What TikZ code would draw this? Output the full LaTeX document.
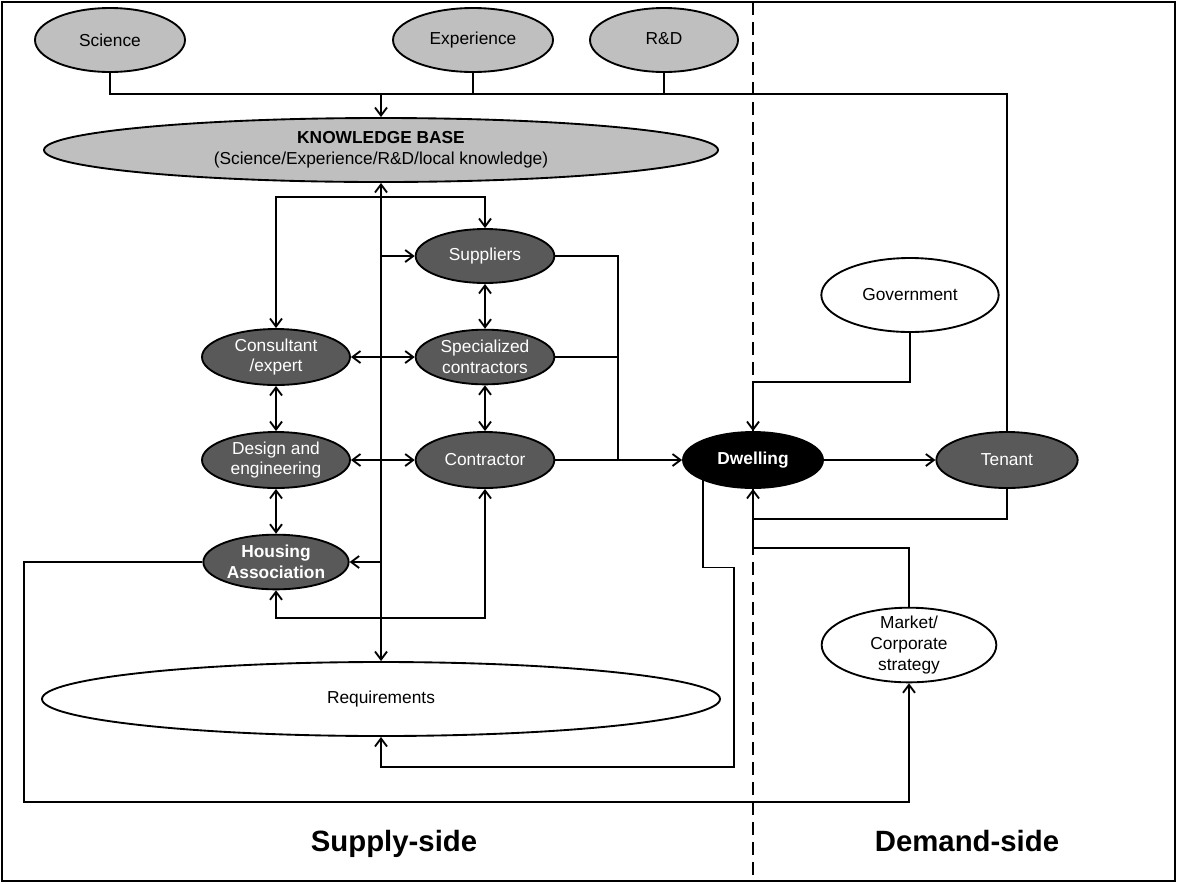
\documentclass[tikz,border=0pt]{standalone}
\usepackage{fontspec}
\setmainfont{Liberation Sans}
\usetikzlibrary{shapes.geometric,arrows.meta,calc}

\definecolor{knowfill}{RGB}{191,191,191}
\definecolor{actorfill}{RGB}{89,89,89}

\tikzset{
  >={Straight Barb[length=6pt,width=9pt]},
  oval/.style={ellipse,draw,inner sep=0pt,align=center,font=\fontsize{13}{15.5}\selectfont},
  source/.style={oval,fill=knowfill},
  actor/.style={oval,fill=actorfill,text=white},
  keyactor/.style={actor,font=\fontsize{13}{15.5}\selectfont\bfseries},
  outside/.style={oval,fill=white},
  sidelabel/.style={anchor=base,font=\fontsize{22}{26}\selectfont\bfseries},
}

\begin{document}
\begin{tikzpicture}[x=0.75pt,y=0.75pt,yscale=-1,xscale=1,line width=1.4pt]
\useasboundingbox (0,0) rectangle (1177,883);

%Frame and divider
\draw (2,2) rectangle (1175,881);
\draw [dash pattern=on 10pt off 5pt] (753,2) -- (753,881);

%Shape: Ellipses (sources of knowledge)
\node [source,minimum width=112.5pt,minimum height=48pt] (sci) at (110,40) {Science};
\node [source,minimum width=120pt,minimum height=48pt] (exp) at (473,40) {\strut Experience};
\node [source,minimum width=111pt,minimum height=48pt] (rnd) at (664,40) {\strut R\&D};
\node [source,minimum width=505.5pt,minimum height=48pt] (kb) at (381,150) {\textbf{KNOWLEDGE BASE}\\(Science/Experience/R\&D/local knowledge)};

%Shape: Ellipses (supply chain)
\node [actor,minimum width=104pt,minimum height=40.5pt] (sup) at (485,256) {Suppliers};
\node [actor,minimum width=111pt,minimum height=42pt] (con) at (276,357) {Consultant\\/expert};
\node [actor,minimum width=104pt,minimum height=41pt] (spc) at (485,357) {Specialized\\contractors};
\node [actor,minimum width=111pt,minimum height=42pt] (des) at (276,460) {Design and\\engineering};
\node [actor,minimum width=104pt,minimum height=42pt] (ctr) at (485,460) {Contractor};
\node [keyactor,minimum width=109pt,minimum height=41pt] (hou) at (276,562) {Housing\\Association};
\node [outside,minimum width=508.5pt,minimum height=55.5pt] (req) at (381,699) {Requirements};

%Shape: Ellipses (demand side)
\node [keyactor,fill=black,minimum width=105pt,minimum height=42pt] (dwl) at (753,460) {Dwelling};
\node [actor,minimum width=106pt,minimum height=42pt] (ten) at (1007,460) {Tenant};
\node [outside,minimum width=133pt,minimum height=55.5pt] (gov) at (910,295) {Government};
\node [outside,inner sep=-5pt,minimum width=131pt,minimum height=56pt] (mkt) at (909,645) {Market/\\Corporate\\strategy};

%Straight Lines: knowledge bus
\coordinate (busR) at (1007,94);
\draw (sci.south) |- (busR) -- (ten.north);
\draw (exp.south) -- (exp.south |- busR);
\draw (rnd.south) -- (rnd.south |- busR);
\draw [->] (kb.north |- busR) -- (kb.north);

%Straight Lines: knowledge trunk
\draw [<->] (kb.south) -- (req.north);
\coordinate (kbsplit) at (381,197);
\draw [->] (kbsplit) -| (con.north);
\draw [->] (kbsplit) -| (sup.north);
\draw [->] (sup.west -| kb.south) -- (sup.west);
\draw [->] (hou.east -| kb.south) -- (hou.east);

%Straight Lines: between actors
\draw [<->] (con.east) -- (spc.west);
\draw [<->] (des.east) -- (ctr.west);
\draw [<->] (sup) -- (spc);
\draw [<->] (spc) -- (ctr);
\draw [<->] (con) -- (des);
\draw [<->] (des) -- (hou);
\draw [<->] (hou.south) -- ++(0,28) -| (ctr.south);

%Straight Lines: into the dwelling
\coordinate (merge) at (618,460);
\draw (sup.east) -| (merge);
\draw (spc.east) -- (spc.east -| merge);
\draw [->] (ctr.east) -- (dwl.west);
\draw [->] (dwl) -- (ten);
\draw [->] (gov.south) -- ++(0,49) -| (dwl.north);
\draw [->] (ten.south) -- ++(0,30) -| (dwl.south);
\draw (mkt.north) -- ++(0,-59) -| (dwl.south);

%Straight Lines: feedback loops
\draw [->] (dwl.south west) |- ++(31,87) |- ($(req.south)+(0,30)$) -- (req.south);
\draw [->] (hou.west) -| (24,802) -| (mkt.south);

% Text Node
\node [sidelabel] (supply) at (394,851) {Supply-side};
\node [sidelabel] (demand) at (967,851) {Demand-side};

\end{tikzpicture}
\end{document}
